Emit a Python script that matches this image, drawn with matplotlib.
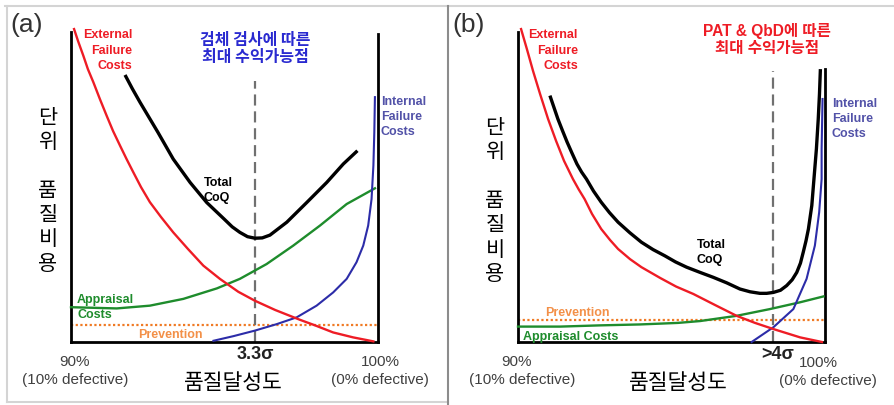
"""Cost-of-quality curves: (a) inspection-based vs (b) PAT & QbD."""

import matplotlib
matplotlib.use("Agg")
import matplotlib.pyplot as plt

plt.rcParams["font.family"] = ["Liberation Sans", "Noto Sans CJK KR", "DejaVu Sans"]

W, H = 895, 406

# x: 0 = 90% (10% defective) .. 1 = 100% (0% defective); y: relative unit cost
# --- panel (a) ---
a_ext_x = [0.010, 0.023, 0.040, 0.055, 0.073, 0.094, 0.116, 0.137, 0.160, 0.181, 0.203, 0.228, 0.257,
           0.293, 0.333, 0.381, 0.431, 0.485, 0.545, 0.599, 0.665, 0.746, 0.795, 0.854, 0.919, 0.985]
a_ext_y = [1.016, 0.977, 0.930, 0.886, 0.843, 0.789, 0.735, 0.685, 0.637, 0.594, 0.551, 0.503, 0.454,
           0.406, 0.356, 0.302, 0.248, 0.205, 0.163, 0.134, 0.104, 0.072, 0.054, 0.031, 0.015, 0.002]
a_tot_x = [0.176, 0.200, 0.225, 0.283, 0.333, 0.388, 0.442, 0.499, 0.525, 0.550, 0.575, 0.599, 0.623,
           0.648, 0.703, 0.768, 0.833, 0.887, 0.933]
a_tot_y = [0.867, 0.822, 0.778, 0.681, 0.594, 0.518, 0.453, 0.399, 0.374, 0.356, 0.342, 0.337, 0.338,
           0.347, 0.389, 0.453, 0.518, 0.578, 0.621]
a_app_x = [0.0, 0.149, 0.257, 0.366, 0.475, 0.550, 0.637, 0.724, 0.811, 0.898, 0.990]
a_app_y = [0.113, 0.109, 0.118, 0.140, 0.174, 0.205, 0.253, 0.313, 0.378, 0.448, 0.499]
a_int_x = [0.464, 0.529, 0.599, 0.670, 0.735, 0.800, 0.854, 0.898, 0.930, 0.952, 0.968, 0.979, 0.985, 0.988, 0.990]
a_int_y = [0.004, 0.019, 0.037, 0.058, 0.080, 0.118, 0.161, 0.205, 0.259, 0.313, 0.378, 0.464, 0.573, 0.681, 0.795]
a_prevention = 0.055
a_opt_x, a_opt_top = 0.599, 0.847
a_right_top = 1.0

# --- panel (b) ---
b_ext_x = [0.010, 0.029, 0.049, 0.072, 0.098, 0.124, 0.150, 0.179, 0.198, 0.217,
           0.241, 0.271, 0.300, 0.326, 0.365, 0.402, 0.463, 0.515, 0.571, 0.642, 0.712, 0.772, 0.832, 0.919, 0.990]
b_ext_y = [1.016, 0.951, 0.880, 0.805, 0.724, 0.653, 0.588, 0.529, 0.495, 0.464,
           0.416, 0.367, 0.331, 0.302, 0.269, 0.243, 0.208, 0.180, 0.156, 0.120, 0.085, 0.062, 0.042, 0.015, 0.0]
b_tot_x = [0.104, 0.117, 0.130, 0.145, 0.160, 0.176, 0.192, 0.207, 0.223, 0.246, 0.271, 0.298, 0.326, 0.364,
           0.402, 0.440, 0.478, 0.513, 0.549, 0.593, 0.636, 0.680, 0.723, 0.756, 0.788, 0.810, 0.832, 0.855,
           0.875, 0.893, 0.908, 0.920, 0.929, 0.938, 0.946, 0.957, 0.964, 0.972, 0.978, 0.982, 0.985]
b_tot_y = [0.800, 0.762, 0.724, 0.686, 0.649, 0.613, 0.578, 0.552, 0.529, 0.490, 0.454, 0.420, 0.389, 0.355,
           0.324, 0.300, 0.280, 0.260, 0.243, 0.226, 0.210, 0.192, 0.172, 0.163, 0.158, 0.158, 0.161, 0.168,
           0.183, 0.202, 0.226, 0.256, 0.291, 0.328, 0.367, 0.443, 0.529, 0.627, 0.724, 0.805, 0.886]
b_app_x = [0.0, 0.137, 0.267, 0.397, 0.521, 0.593, 0.712, 0.821, 0.919, 0.995]
b_app_y = [0.050, 0.050, 0.054, 0.057, 0.062, 0.068, 0.085, 0.107, 0.129, 0.148]
b_int_x = [0.761, 0.795, 0.832, 0.897, 0.940, 0.967, 0.981, 0.989, 0.989, 0.992]
b_int_y = [0.0, 0.023, 0.048, 0.107, 0.205, 0.313, 0.421, 0.529, 0.627, 0.789]
b_prevention = 0.071
b_opt_x, b_opt_top = 0.832, 0.880
b_right_top = 0.886

RED = "#ee1c25"
GREEN = "#1e8c2c"
BLUE = "#2c2ca8"
ORANGE = "#f07a24"
GRAY_TXT = "#404040"

fig = plt.figure(figsize=(W / 100, H / 100), dpi=100)


def ftext(px, py, s, **kw):
    fig.text(px / W, 1 - py / H, s, **kw)


def lines(px, py, dy, rows, **kw):
    for i, r in enumerate(rows):
        ftext(px, py + i * dy, r, **kw)


def draw_panel(left_px, ext, tot, app, intl, prev, opt_x, opt_top, right_top):
    ax = fig.add_axes([left_px / W, (H - 343) / H, 307 / W, 308 / H])
    ax.set_xlim(0, 1)
    ax.set_ylim(0, 1)
    ax.patch.set_alpha(0)
    ax.set_xticks([])
    ax.set_yticks([])
    ax.spines["top"].set_visible(False)
    for s in ("left", "right", "bottom"):
        ax.spines[s].set_linewidth(2)
        ax.spines[s].set_color("black")
    ax.spines["left"].set_bounds(0, 1.006)
    ax.spines["right"].set_bounds(0, right_top)

    kw = dict(clip_on=False, solid_joinstyle="round")
    ax.axhline(prev, color=ORANGE, lw=1.6, ls=(0, (1, 1.1)), zorder=2)
    ax.plot([opt_x, opt_x], [0, opt_top], color="#707070", lw=1.6, dashes=(5, 2.6), zorder=2)
    ax.plot(*app, color=GREEN, lw=1.7, zorder=3, **kw)
    ax.plot(*intl, color=BLUE, lw=1.5, zorder=3, **kw)
    ax.plot(*ext, color=RED, lw=1.7, zorder=4, **kw)
    ax.plot(*tot, color="black", lw=2.4, zorder=5, solid_capstyle="butt", **kw)
    return ax


draw_panel(71, (a_ext_x, a_ext_y), (a_tot_x, a_tot_y), (a_app_x, a_app_y), (a_int_x, a_int_y),
           a_prevention, a_opt_x, a_opt_top, a_right_top)
draw_panel(518, (b_ext_x, b_ext_y), (b_tot_x, b_tot_y), (b_app_x, b_app_y), (b_int_x, b_int_y),
           b_prevention, b_opt_x, b_opt_top, b_right_top)

# panel frames
bg = fig.add_axes([0, 0, 1, 1], zorder=-1)
bg.set_xlim(0, W)
bg.set_ylim(H, 0)
bg.axis("off")
bg.plot([5, W], [7, 7], color="#d4d4d4", lw=1.5)
bg.plot([7, 7], [7, 403], color="#d4d4d4", lw=1.5)
bg.plot([7, 448], [403, 403], color="#d4d4d4", lw=1.5)
bg.plot([448, 448], [7, H], color="#8c8c8c", lw=1.5)

lab = dict(fontsize=9, fontweight="bold", va="center")
kor = ["Noto Sans CJK KR", "Liberation Sans"]
ylab_rows = ["단", "위", "", "품", "질", "비", "용"]
pct = dict(color=GRAY_TXT, ha="center", va="center", fontsize=11)

# ---- (a) texts
ftext(27, 25, "(a)", fontsize=19, color="#333333", ha="center", va="center")
lines(132, 35, 15.5, ["External", "Failure", "Costs"], color=RED, ha="right", **lab)
lines(255, 40, 17, ["검체 검사에 따른", "최대 수익가능점"], color="#2a2ad0", ha="center", va="center",
      fontsize=11.5, fontweight="bold", family=kor)
lines(381, 102, 15, ["Internal", "Failure", "Costs"], color="#5252a8", ha="left", **lab)
lines(204, 183, 15.5, ["Total", "CoQ"], color="black", ha="left", **lab)
lines(77, 300, 15, ["Appraisal", "Costs"], color=GREEN, ha="left", **lab)
ftext(138, 335, "Prevention", color="#f39048", ha="left", **lab)
lines(48, 118, 24.3, ylab_rows, color="black", ha="center", va="center", fontsize=15, family=kor)
lines(75, 362, 18.5, ["90%", "(10% defective)"], **pct)
lines(380, 362, 18.5, ["100%", "(0% defective)"], **pct)
ftext(255, 355, "3.3σ", fontsize=13, fontweight="bold", color="#222222", ha="center", va="center")
ftext(233, 383, "품질달성도", fontsize=15.5, color="black", ha="center", va="center", family=kor)

# ---- (b) texts
ftext(469, 25, "(b)", fontsize=19, color="#333333", ha="center", va="center")
lines(578, 35, 15.5, ["External", "Failure", "Costs"], color=RED, ha="right", **lab)
lines(767, 31, 18, ["PAT & QbD에 따른", "최대 수익가능점"], color=RED, ha="center", va="center",
      fontsize=11.2, fontweight="bold")
lines(832, 104, 15, ["Internal", "Failure", "Costs"], color="#5252a8", ha="left", **lab)
lines(697, 245, 15.5, ["Total", "CoQ"], color="black", ha="left", **lab)
ftext(545, 313, "Prevention", color="#f39048", ha="left", **lab)
ftext(523, 337, "Appraisal Costs", color=GREEN, ha="left", **lab)
lines(495, 128, 24.3, ylab_rows, color="black", ha="center", va="center", fontsize=15, family=kor)
ftext(517, 362, "90%", **pct)
ftext(522, 380.5, "(10% defective)", **pct)
ftext(818, 363, "100%", **pct)
ftext(828, 381, "(0% defective)", **pct)
ftext(778, 355, ">4σ", fontsize=13, fontweight="bold", color="#222222", ha="center", va="center")
ftext(678, 383, "품질달성도", fontsize=15.5, color="black", ha="center", va="center", family=kor)

fig.savefig("out.png", dpi=100)
plt.close(fig)
